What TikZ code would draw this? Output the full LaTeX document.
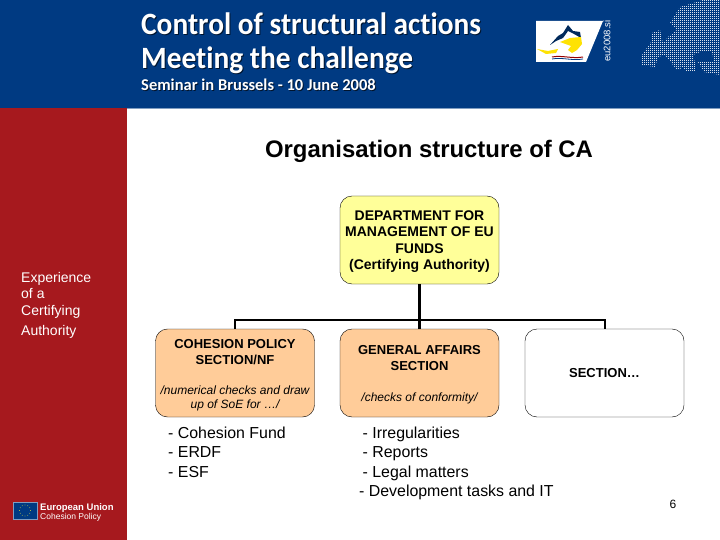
\documentclass[tikz,border=0pt]{standalone}
\usepackage{fontspec}
\setmainfont{Liberation Sans}
\newfontfamily\bannerfont[Ligatures=NoCommon]{Carlito}
\usetikzlibrary{positioning}
\definecolor{bannerblue}{HTML}{003A82}
\definecolor{sidered}{HTML}{A6191E}
\definecolor{deptyellow}{HTML}{FFFF99}
\definecolor{sectionorange}{HTML}{FFCC99}
\tikzset{
    orgbox/.style={draw=black, rounded corners=12pt, minimum width=159pt, minimum height=88pt, inner sep=0pt, align=center},
    boxtext/.style={font=\fontsize{14}{16.5}\selectfont\bfseries, align=center, inner sep=0pt},
    sectiontext/.style={font=\fontsize{13}{16}\selectfont\bfseries, align=center, inner sep=0pt},
    notetext/.style={font=\fontsize{12}{14}\selectfont\itshape, align=center, inner sep=0pt},
    listtext/.style={font=\fontsize{15.9}{19.5}\selectfont, align=left, anchor=north west, inner sep=0pt},
    sidetext/.style={font=\fontsize{14}{16.5}\selectfont, align=left, anchor=north west, text=white, inner sep=0pt},
    orgline/.style={line width=2pt},
    orgtrunk/.style={line width=3pt},
    bannertext/.style={text=white, anchor=base west, inner sep=0pt},
    bannershadow/.style={text=black!65!bannerblue, anchor=base west, inner sep=0pt},
    bigbanner/.style={font=\bannerfont\fontsize{31}{31}\selectfont\bfseries, xscale=0.947},
    smallbanner/.style={font=\bannerfont\fontsize{16.5}{16.5}\selectfont\bfseries}
}
\begin{document}
\begin{tikzpicture}[x=1pt, y=-1pt]
    \useasboundingbox (0,0) rectangle (720,540);

    % Kopbalk en zijbalk
    \fill[white] (0,0) rectangle (720,540);
    \fill[bannerblue] (0,0) rectangle (720,108);
    \fill[sidered] (0,108) rectangle (127,540);
    \draw[line width=1pt, bannerblue!50!white] (127,108.5) -- (720,108.5);

    % Titel in de kopbalk
    \node[bannershadow, bigbanner] at (142,36) {Control of structural actions};
    \node[bannertext, bigbanner] (titleone) at (141,35) {Control of structural actions};
    \node[bannershadow, bigbanner] at (142,70) {Meeting the challenge};
    \node[bannertext, bigbanner] (titletwo) at (141,69) {Meeting the challenge};
    \node[bannershadow, smallbanner] at (142,92) {Seminar in Brussels - 10 June 2008};
    \node[bannertext, smallbanner] (seminar) at (141,91) {Seminar in Brussels - 10 June 2008};

    % Logo voorzitterschap
    \fill[white] (536,21) -- (603,21) -- (586,62) -- (536,62) -- cycle;
    \fill[bannerblue!70!black] (550,45) -- (558,36) -- (563,33) -- (568,25) -- (573,31) -- (580,32) -- (581,38) -- (574,34) -- (568,31) -- (563,38) -- (556,41) -- cycle;
    \fill[yellow!85!orange] (560,42) -- (570,38) -- (581,37) -- (582,44) -- (577,50) -- (572,53) -- (568,50) -- (571,46) -- cycle;
    \fill[yellow!85!orange] (537,49) -- (548,51) -- (558,49) -- (556,53) -- (546,54) -- cycle;
    \draw[line width=1pt, red!60!black] (552,57) .. controls (562,55) and (572,59) .. (583,57);
    \draw[line width=0.8pt, bannerblue] (552,59) .. controls (562,57) and (572,61) .. (583,59);
    \node[rotate=90, text=white, inner sep=0pt, font=\fontsize{9.5}{9.5}\selectfont] (eusi) at (607,41) {eu2008.si};

    % Kaart van Europa, gestippeld
    \begin{scope}
        \clip (642,55) -- (642,65) -- (655,67) -- (658,57) -- (665,55) -- (677,70) -- (682,68) -- (673,58) -- (687,72) -- (695,72) -- (695,63) -- (693,55) -- (700,52) -- (712,52) -- (714,62) -- (698,62) -- (704,72) -- (720,75) -- (720,0) -- (703,0) -- (680,7) -- (670,23) -- (677,30) -- (668,37) -- (663,43) -- (660,30) -- (652,33) -- (651,42) -- cycle;
        \foreach \dotx in {640,642,...,720}
            \foreach \doty in {0,2,...,76}
                \fill[white!85!bannerblue] (\dotx,\doty) rectangle +(1.3,1.3);
    \end{scope}

    % EU logo
    \fill[bannerblue] (13,502) rectangle (37,519);
    \draw[line width=0.5pt, bannerblue!50!white] (13,502) rectangle (37,519);
    \foreach \starangle in {0,30,...,330}
        \fill[yellow!80!white] (25,510.5) ++(\starangle:5.5) circle (0.45);
    \node[bannertext, font=\fontsize{9.5}{9.5}\selectfont\bfseries] (eulogo) at (40,510) {European Union};
    \node[bannertext, font=\fontsize{8.5}{8.5}\selectfont] (cohesionlogo) at (40,519) {Cohesion Policy};

    % Teksten
    \node[font=\fontsize{23.9}{26}\selectfont\bfseries, inner sep=0pt] (title) at (429,151.5) {Organisation structure of CA};
    \node[sidetext] (experience) at (21,272) {Experience\\of a\\Certifying\\[4pt]Authority};

    % De vakken
    \node[orgbox, fill=deptyellow] (dept) at (419.5,240) {};
    \node[boxtext] (deptname) at (419.5,241.5) {DEPARTMENT FOR\\MANAGEMENT OF EU\\FUNDS\\(Certifying Authority)};
    \node[orgbox, fill=sectionorange] (cohesion) at (235,373) {};
    \node[orgbox, fill=sectionorange] (general) at (419.5,373) {};
    \node[orgbox] (other) at (604.5,373) {};

    \node[sectiontext] (cohesionname) at (235,352) {COHESION POLICY\\SECTION/NF};
    \node[notetext] (cohesionnote) at (235,398) {/numerical checks and draw\\up of SoE for …/};
    \node[sectiontext] (generalname) at (419.5,358.5) {GENERAL AFFAIRS\\SECTION};
    \node[notetext] (generalnote) at (419.5,398) {/checks of conformity/};
    \node[sectiontext] (othername) at (604.5,373.5) {SECTION…};

    % Verbindingen
    \coordinate (bus) at (419.5,320);
    \draw[orgtrunk] (dept.south) -- (general.north);
    \draw[orgline] (bus) -| (cohesion.north);
    \draw[orgline] (bus) -| (other.north);

    % Lijsten
    \node[listtext] (cohesionlist) at (168,426.5) {- Cohesion Fund\\- ERDF\\- ESF};
    \node[listtext] (generallist) at (359,426.5) {\hspace{3.5pt}- Irregularities\\\hspace{3.5pt}- Reports\\\hspace{3.5pt}- Legal matters\\- Development tasks and IT};
    \node[font=\fontsize{12}{14}\selectfont, inner sep=0pt] (pagenum) at (673,504) {6};
\end{tikzpicture}
\end{document}
